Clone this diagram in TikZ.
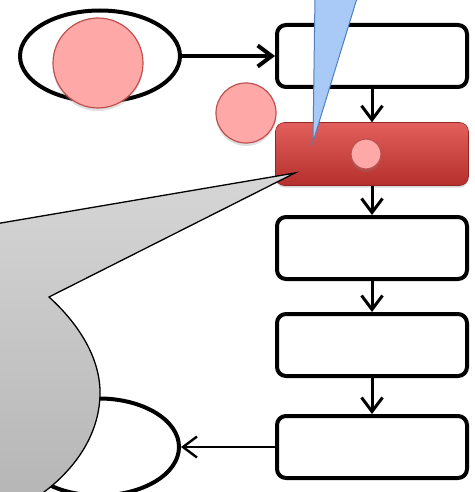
\documentclass[tikz,border=0pt]{standalone}
\usetikzlibrary{shapes.geometric,arrows.meta,shadows}

\begin{document}
\begin{tikzpicture}[x=1pt, y=-1pt]
    % Define colours
    \definecolor{pinkFill}{HTML}{FFA8A8}
    \definecolor{pinkBorder}{HTML}{C0504D}
    \definecolor{redTop}{HTML}{E25F5C}
    \definecolor{redBottom}{HTML}{B5302D}
    \definecolor{blueFill}{HTML}{A9C9F6}
    \definecolor{blueBorder}{HTML}{4F81BD}
    \definecolor{greyTop}{HTML}{D6D6D6}
    \definecolor{greyBottom}{HTML}{B6B6B6}

    % Define styles
    \tikzset{
        flowbox/.style={draw, line width=4pt, rounded corners=9pt, minimum width=190pt, minimum height=62pt},
        endbox/.style={ellipse, draw, line width=4pt, minimum width=160pt, minimum height=91pt},
        dot/.style={circle, draw=pinkBorder, fill=pinkFill, line width=1.2pt, inner sep=0pt,
            drop shadow={shadow xshift=0pt, shadow yshift=-3pt, opacity=0.25}},
        flow/.style={line width=3pt, -{Straight Barb[length=14pt, width=21pt]}},
    }

    % Fix the canvas
    \useasboundingbox (0,0) rectangle (474,492);
    \clip (0,0) rectangle (474,492);

    % Draw the start ellipse
    \node[endbox] (start) at (100,56) {};
    \node[dot, minimum size=90pt] (bigDot) at (98,63) {};

    % Draw the chain of steps
    \node[flowbox] (box1) at (372,56) {};
    \node[rounded corners=9pt, draw=redBottom!80!black, line width=0.6pt, top color=redTop, bottom color=redBottom,
        minimum width=193pt, minimum height=63pt,
        drop shadow={shadow xshift=0pt, shadow yshift=-2pt, opacity=0.3}] (box2) at (372,154) {};
    \node[flowbox] (box3) at (372,248) {};
    \node[flowbox] (box4) at (372,345) {};
    \node[flowbox] (box5) at (372,447) {};

    % Draw the dots near the red step
    \node[dot, minimum size=30pt] (smallDot) at (366,154) {};
    \node[dot, minimum size=60pt] (sideDot) at (246,113) {};

    % Draw the arrows
    \draw[flow, line width=4pt] (start) -- (box1);
    \draw[flow] (box1) -- (box2);
    \draw[flow] (box2) -- (box3);
    \draw[flow] (box3) -- (box4);
    \draw[flow] (box4) -- (box5);

    % Draw the end ellipse
    \node[endbox, minimum height=97pt] (finish) at (99,447) {};
    \draw[flow, line width=2.4pt] (box5) -- (finish);

    % Draw the blue pointer
    \coordinate (blueTip) at (313,142);
    \filldraw[fill=blueFill, draw=blueBorder, line width=1pt] (315,-5) -- (358,-5) -- (blueTip) -- cycle;

    % Draw the grey callout
    \coordinate (greyTip) at (295,173);
    \draw[top color=greyTop, bottom color=greyBottom, line width=1.3pt, line join=miter]
        (-5,224) -- (greyTip) -- (49,297)
        .. controls (80,325) and (101,360) .. (100,395)
        .. controls (99,435) and (75,470) .. (40,495)
        -- (-5,495) -- cycle;

\end{tikzpicture}
\end{document}
